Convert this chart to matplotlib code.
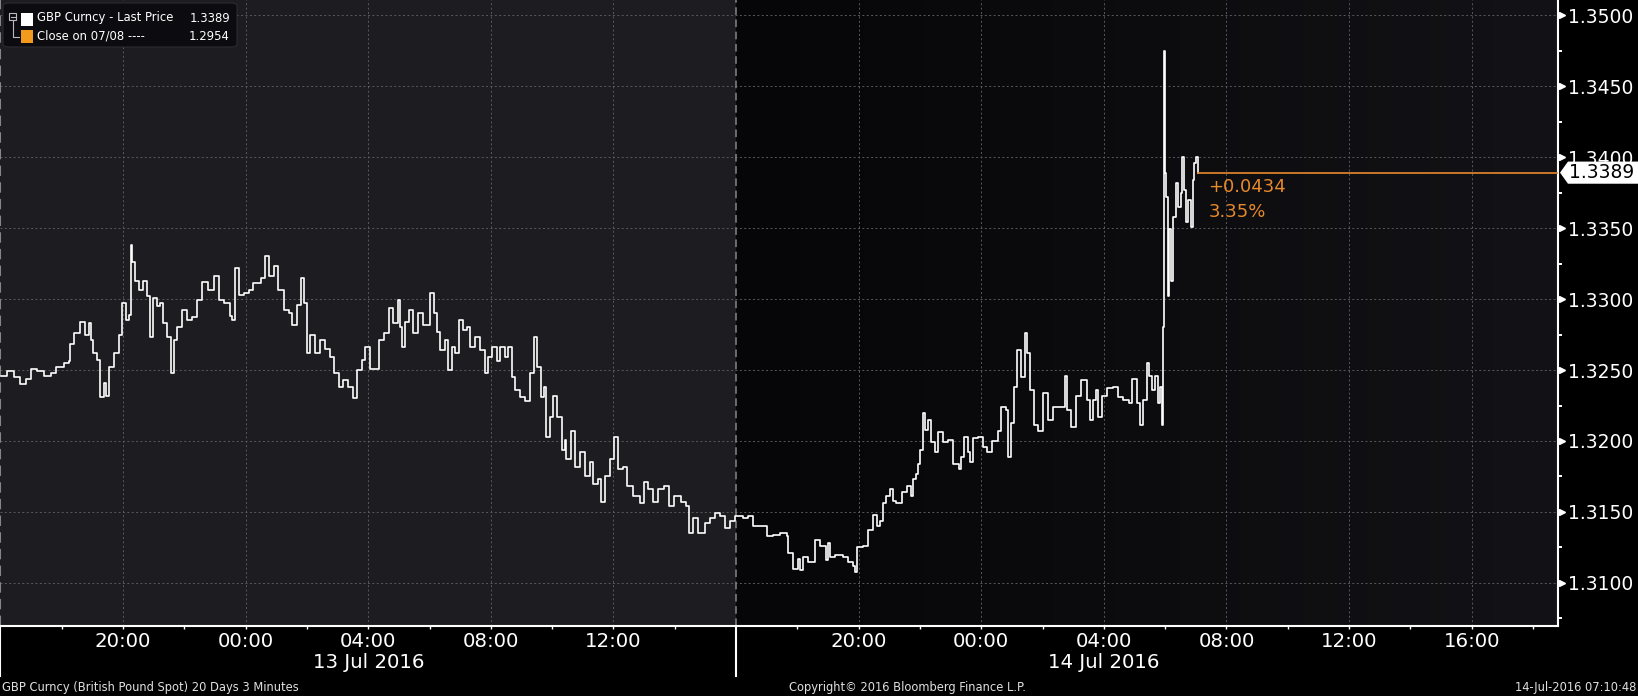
import numpy as np
import pandas as pd
import matplotlib
matplotlib.use('Agg')
from matplotlib import pyplot as plt
import matplotlib.dates as mdates
from matplotlib.patches import Polygon, Rectangle, FancyBboxPatch
from matplotlib.colors import LinearSegmentedColormap
from matplotlib.transforms import blended_transform_factory

# GBP spot, minutes after 12 Jul 2016 16:00 (chart time) and price
min_a = [0, 13, 26, 39, 49, 59, 72, 85, 98, 108,
         124, 134, 137, 143, 156, 166, 173, 177, 182, 189,
         194, 202, 207, 212, 222, 231, 238, 245, 251, 255,
         258, 264, 271, 279, 287, 293, 299, 307, 313, 319,
         326, 334, 339, 346, 355, 365, 375, 385, 395, 407,
         417, 427, 437, 450, 453, 460, 466, 476, 486, 495,
         509, 517, 525, 536, 544, 554, 564, 571, 580, 589,
         595, 600, 606, 616, 626, 636, 645, 652, 662, 671,
         681, 690, 698, 707, 714, 724, 734, 740, 750, 760,
         769, 779, 782]
px_a = [1.3246, 1.3249, 1.3245, 1.3240, 1.3244, 1.3251, 1.3249, 1.3246, 1.3248, 1.3252,
        1.3255, 1.3256, 1.3268, 1.3276, 1.3284, 1.3275, 1.3283, 1.3271, 1.3262, 1.3257,
        1.3231, 1.3241, 1.3232, 1.3252, 1.3262, 1.3275, 1.3297, 1.3285, 1.3289, 1.3338,
        1.3326, 1.3313, 1.3306, 1.3313, 1.3302, 1.3273, 1.3301, 1.3295, 1.3297, 1.3283,
        1.3273, 1.3248, 1.3271, 1.3280, 1.3292, 1.3285, 1.3287, 1.3299, 1.3312, 1.3306,
        1.3316, 1.3299, 1.3297, 1.3288, 1.3285, 1.3322, 1.3303, 1.3304, 1.3306, 1.3311,
        1.3315, 1.3330, 1.3316, 1.3323, 1.3306, 1.3292, 1.3290, 1.3282, 1.3296, 1.3315,
        1.3297, 1.3262, 1.3275, 1.3262, 1.3271, 1.3265, 1.3259, 1.3248, 1.3238, 1.3243,
        1.3238, 1.3230, 1.3250, 1.3257, 1.3266, 1.3251, 1.3251, 1.3271, 1.3276, 1.3294,
        1.3283, 1.3299, 1.3280]

min_b = [786, 792, 799, 808, 818, 828, 840, 848, 854, 861,
         870, 876, 884, 890, 898, 906, 913, 919, 929, 939,
         949, 955, 962, 972, 978, 988, 993, 1001, 1007, 1017,
         1027, 1037, 1045, 1051, 1058, 1064, 1068, 1076, 1082, 1089,
         1099, 1105, 1108, 1116, 1125, 1134, 1144, 1154, 1160, 1170,
         1176, 1183, 1193, 1201, 1209, 1219, 1226, 1239, 1252, 1260,
         1268, 1278, 1288, 1299, 1309, 1318, 1333, 1342, 1348, 1356,
         1366, 1379, 1389, 1399, 1408, 1418, 1428, 1438]
px_b = [1.3266, 1.3284, 1.3292, 1.3276, 1.3290, 1.3282, 1.3304, 1.3290, 1.3277, 1.3264,
        1.3271, 1.3250, 1.3266, 1.3262, 1.3285, 1.3278, 1.3280, 1.3266, 1.3273, 1.3264,
        1.3248, 1.3259, 1.3266, 1.3256, 1.3266, 1.3259, 1.3266, 1.3245, 1.3236, 1.3231,
        1.3228, 1.3248, 1.3273, 1.3252, 1.3231, 1.3238, 1.3203, 1.3217, 1.3232, 1.3217,
        1.3194, 1.3201, 1.3187, 1.3207, 1.3182, 1.3192, 1.3175, 1.3185, 1.3170, 1.3173,
        1.3157, 1.3175, 1.3187, 1.3203, 1.3180, 1.3182, 1.3168, 1.3161, 1.3156, 1.3171,
        1.3166, 1.3157, 1.3166, 1.3168, 1.3154, 1.3161, 1.3157, 1.3154, 1.3135, 1.3146,
        1.3135, 1.3142, 1.3146, 1.3149, 1.3147, 1.3139, 1.3144, 1.3147]

min_c = [1454, 1464, 1473, 1493, 1500, 1513, 1526, 1539, 1542, 1552,
         1561, 1565, 1571, 1580, 1594, 1604, 1616, 1620, 1623, 1633,
         1649, 1659, 1668, 1672, 1676, 1688, 1698, 1708, 1715, 1721,
         1728, 1734, 1741, 1747, 1754, 1764, 1774, 1782, 1786, 1793,
         1796, 1800, 1805, 1809, 1816, 1822, 1829, 1835, 1845, 1855,
         1865, 1876, 1881, 1886, 1894, 1897, 1904, 1914, 1923, 1931,
         1940, 1953, 1959, 1968, 1973, 1979, 1985, 1990, 1998, 2005,
         2009, 2015, 2024, 2031, 2041, 2050, 2060, 2073, 2083, 2088,
         2096, 2106, 2116, 2126, 2132, 2139, 2145, 2148, 2157, 2167,
         2177, 2187, 2197, 2210, 2216, 2224, 2230, 2236, 2244, 2249,
         2255, 2261, 2265, 2269, 2274, 2275, 2277, 2279, 2282, 2285,
         2288, 2292, 2296, 2302, 2306, 2310, 2313, 2316, 2320, 2324,
         2330, 2334, 2337, 2341, 2344, 2345]
px_c = [1.3146, 1.3147, 1.3140, 1.3140, 1.3133, 1.3134, 1.3135, 1.3133, 1.3121, 1.3110,
        1.3117, 1.3109, 1.3118, 1.3115, 1.3130, 1.3126, 1.3116, 1.3128, 1.3118, 1.3120,
        1.3118, 1.3115, 1.3112, 1.3108, 1.3125, 1.3126, 1.3137, 1.3148, 1.3140, 1.3144,
        1.3156, 1.3161, 1.3166, 1.3158, 1.3156, 1.3164, 1.3168, 1.3161, 1.3173, 1.3177,
        1.3184, 1.3194, 1.3220, 1.3208, 1.3215, 1.3199, 1.3192, 1.3206, 1.3199, 1.3201,
        1.3184, 1.3180, 1.3189, 1.3203, 1.3192, 1.3185, 1.3202, 1.3203, 1.3196, 1.3192,
        1.3200, 1.3207, 1.3224, 1.3222, 1.3189, 1.3213, 1.3238, 1.3264, 1.3245, 1.3276,
        1.3262, 1.3236, 1.3211, 1.3207, 1.3234, 1.3215, 1.3224, 1.3224, 1.3246, 1.3222,
        1.3210, 1.3232, 1.3243, 1.3229, 1.3215, 1.3229, 1.3236, 1.3217, 1.3232, 1.3237,
        1.3238, 1.3231, 1.3229, 1.3227, 1.3244, 1.3227, 1.3211, 1.3229, 1.3255, 1.3246,
        1.3236, 1.3246, 1.3227, 1.3238, 1.3211, 1.3280, 1.3475, 1.3389, 1.3372, 1.3302,
        1.3349, 1.3313, 1.3358, 1.3382, 1.3365, 1.3375, 1.3400, 1.3377, 1.3354, 1.3370,
        1.3351, 1.3384, 1.3396, 1.3400, 1.3391, 1.3389]

last_price = 1.3389
prev_close = 1.2954
change = 0.0434
change_pct = 3.35

start = pd.Timestamp('2016-07-12 16:00')
day_split = pd.Timestamp('2016-07-13 16:00')
x_left = pd.Timestamp('2016-07-12 15:59')
x_right = pd.Timestamp('2016-07-14 18:49')

tick_times = ['2016-07-12 20:00', '2016-07-13 00:00', '2016-07-13 04:00', '2016-07-13 08:00',
              '2016-07-13 12:00', '2016-07-13 20:00', '2016-07-14 00:00', '2016-07-14 04:00',
              '2016-07-14 08:00', '2016-07-14 12:00', '2016-07-14 16:00']
tick_labels = ['20:00', '00:00', '04:00', '08:00', '12:00',
               '20:00', '00:00', '04:00', '08:00', '12:00', '16:00']
date_times = ['2016-07-13 04:00', '2016-07-14 04:00']
date_labels = ['13 Jul 2016', '14 Jul 2016']
y_ticks = [1.3100, 1.3150, 1.3200, 1.3250, 1.3300, 1.3350, 1.3400, 1.3450, 1.3500]
y_lim = (1.30697, 1.35106)

orange = '#e8892b'
fam = ['DejaVu Sans']

minutes = np.array(min_a + min_b + min_c)
prices = np.array(px_a + px_b + px_c)
times = start + pd.to_timedelta(minutes, unit='m')
tnum = mdates.date2num(times.to_pydatetime())

fig = plt.figure(figsize=(16.38, 6.96), dpi=100, facecolor='black')
ax = fig.add_axes([0, 70 / 696, 1558 / 1638, 626 / 696])
ax.set_facecolor('#0b0b0f')

xl = mdates.date2num(x_left.to_pydatetime())
xr = mdates.date2num(x_right.to_pydatetime())
xs = mdates.date2num(day_split.to_pydatetime())

# backgrounds: previous session lighter, current session dark gradient
ax.axvspan(xl, xs, color='#1c1c21', zorder=0, lw=0)
grad = np.linspace(0, 1, 256).reshape(1, -1)
cm = LinearSegmentedColormap.from_list('bg', ['#060608', '#131317'])
ax.imshow(grad, cmap=cm, aspect='auto', extent=[xs, xr, y_lim[0], y_lim[1]], zorder=0)
ax.set_xlim(xl, xr)
ax.set_ylim(*y_lim)

# grid
ax.set_yticks(y_ticks)
ax.set_yticks(np.arange(1.3075, 1.3500, 0.005), minor=True)
ax.set_yticklabels(['%.4f' % v for v in y_ticks])
ax.set_xticks(mdates.date2num(pd.to_datetime(tick_times).to_pydatetime()))
ax.set_xticklabels(tick_labels)
minor_x = pd.date_range('2016-07-12 18:00', '2016-07-14 18:00', freq='4h')
ax.set_xticks(mdates.date2num(minor_x.to_pydatetime()), minor=True)
ax.grid(True, which='major', color='#5a5a5e', lw=0.7, ls=(0, (2, 2.5)))
ax.set_axisbelow(True)
ax.axvline(xs, color='#85858a', lw=1.1, ls=(0, (5, 3)), zorder=1)
ax.axvline(xl + 0.0005, color='#85858a', lw=1.5, ls=(0, (5, 3)), zorder=1)

# price
ax.plot(tnum, prices, color='white', lw=1.2, drawstyle='steps-post', zorder=3)
ax.plot([tnum[-1], xr], [last_price, last_price], color=orange, lw=1.2, zorder=3)
ax.annotate('+%.4f' % change, xy=(tnum[-1], last_price), xytext=(10, -14),
            textcoords='offset pixels', ha='left', va='center', color=orange,
            fontsize=13, family=fam)
ax.annotate('%.2f%%' % change_pct, xy=(tnum[-1], last_price), xytext=(10, -39),
            textcoords='offset pixels', ha='left', va='center', color=orange,
            fontsize=13, family=fam)

# axes styling
for s in ['top', 'left']:
    ax.spines[s].set_visible(False)
for s in ['bottom', 'right']:
    ax.spines[s].set_color('white')
    ax.spines[s].set_linewidth(1.5)
ax.yaxis.tick_right()
ax.tick_params(axis='y', which='major', length=0, pad=7.5, labelsize=13.5,
               labelcolor='white', labelfontfamily=fam[0])
ax.tick_params(axis='y', which='minor', length=3, width=1.4, color='white', direction='out')
ax.tick_params(axis='x', which='both', length=2.5, width=1, color='white', direction='out')
ax.tick_params(axis='x', which='major', pad=1.5, labelsize=14.2, labelcolor='white',
               labelfontfamily=fam[0])

ytr = blended_transform_factory(ax.transAxes, ax.transData)
ax.plot([1.0025] * len(y_ticks), y_ticks, ls='none', marker='>', ms=5, color='white',
        transform=ytr, clip_on=False, zorder=5)

xtr = blended_transform_factory(ax.transData, ax.transAxes)
for d, lab in zip(date_times, date_labels):
    ax.text(mdates.date2num(pd.Timestamp(d).to_pydatetime()), -37 / 626, lab,
            transform=xtr, ha='center', va='center', color='white', fontsize=14.2, family=fam)
for xv in [xl, xs]:
    ax.plot([xv, xv], [0, -50 / 626], color='white', lw=1.5, transform=xtr, clip_on=False)

# last price tag
h = 0.00078
tag = Polygon([(1.0013, last_price), (1.0064, last_price + h), (1.06, last_price + h),
               (1.06, last_price - h), (1.0064, last_price - h)], closed=True,
              facecolor='white', edgecolor='none', transform=ytr, clip_on=False, zorder=10)
ax.add_patch(tag)
ax.text(1.0072, last_price, '%.4f' % last_price, transform=ytr, ha='left', va='center',
        color='black', fontsize=13.5, family=fam, zorder=11, clip_on=False)


# legend box
def fx(px):
    return px / 1638


def fy(py):
    return 1 - py / 696


fig.add_artist(FancyBboxPatch((fx(3), fy(47)), fx(234), 44 / 696,
                              boxstyle='round,pad=0,rounding_size=0.004',
                              facecolor='#0c0c10', edgecolor='#2b2b30', lw=0.8,
                              transform=fig.transFigure, zorder=20))
fig.add_artist(Rectangle((fx(9), fy(20)), fx(7), 7 / 696, facecolor='none',
                         edgecolor='#bbbbbb', lw=0.8, transform=fig.transFigure, zorder=21))
fig.add_artist(plt.Line2D([fx(10.5), fx(14.5)], [fy(16.5), fy(16.5)], color='#bbbbbb', lw=0.8,
                          transform=fig.transFigure, zorder=21))
fig.add_artist(plt.Line2D([fx(12.5), fx(12.5), fx(19)], [fy(20), fy(37), fy(37)],
                          color='#bbbbbb', lw=0.8, transform=fig.transFigure, zorder=21))
fig.add_artist(Rectangle((fx(21), fy(26)), fx(12), 13 / 696, facecolor='white',
                         edgecolor='none', transform=fig.transFigure, zorder=21))
fig.add_artist(Rectangle((fx(21), fy(43)), fx(12), 13 / 696, facecolor='#f39a1e',
                         edgecolor='none', transform=fig.transFigure, zorder=21))
fig.text(fx(37), fy(18), 'GBP Curncy - Last Price', color='white', fontsize=8.4,
         va='center', ha='left', family=fam, zorder=22)
fig.text(fx(230), fy(18), '%.4f' % last_price, color='white', fontsize=8.4,
         va='center', ha='right', family=fam, zorder=22)
fig.text(fx(37), fy(36), 'Close on 07/08 ----', color='white', fontsize=8.4,
         va='center', ha='left', family=fam, zorder=22)
fig.text(fx(230), fy(36), '%.4f' % prev_close, color='white', fontsize=8.4,
         va='center', ha='right', family=fam, zorder=22)

# footer
fig.text(fx(2), fy(688), 'GBP Curncy (British Pound Spot) 20 Days 3 Minutes', color='#e0e0e0',
         fontsize=8.3, va='center', ha='left', family=fam)
fig.text(fx(907), fy(688), 'Copyright\u00a9 2016 Bloomberg Finance L.P.', color='#e0e0e0',
         fontsize=8.3, va='center', ha='center', family=fam)
fig.text(fx(1636), fy(688), '14-Jul-2016 07:10:48', color='#e0e0e0',
         fontsize=8.3, va='center', ha='right', family=fam)

fig.savefig('out.png', dpi=100, facecolor='black')
